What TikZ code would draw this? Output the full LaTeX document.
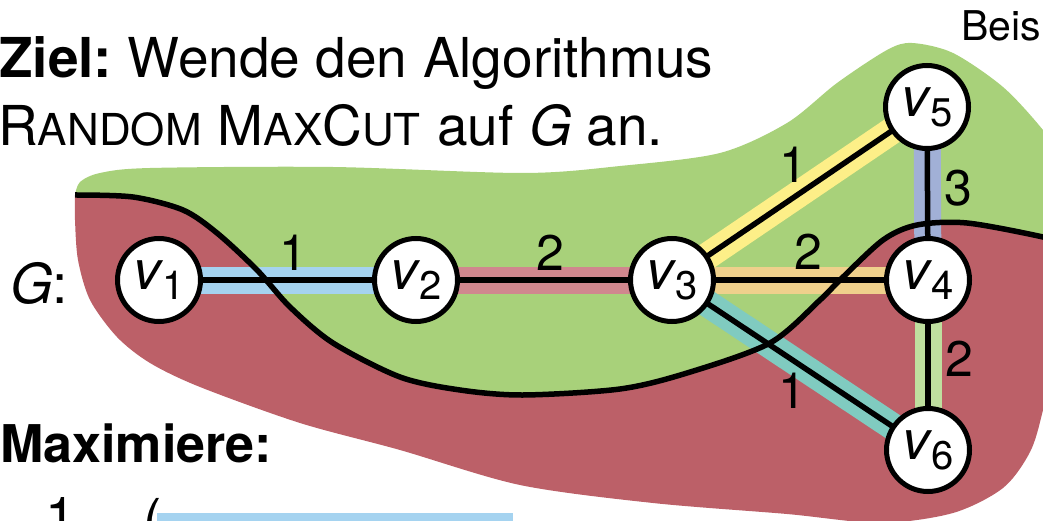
\documentclass[tikz,border=0pt]{standalone}
\usepackage{fontspec}
\setmainfont{TeX Gyre Heros}
\definecolor{cgreen}{HTML}{A8D17A}
\definecolor{cred}{HTML}{BC6068}
\definecolor{cblue}{HTML}{A5D3F0}
\definecolor{cpink}{HTML}{D0878E}
\definecolor{corange}{HTML}{EFD08C}
\definecolor{cyellow}{HTML}{FDEF88}
\definecolor{clav}{HTML}{A1B0D6}
\definecolor{cteal}{HTML}{80CBC0}
\definecolor{clgreen}{HTML}{BFDF9F}
\pgfdeclarelayer{back}
\pgfdeclarelayer{bands}
\pgfdeclarelayer{lines}
\pgfdeclarelayer{cut}
\pgfsetlayers{back,bands,lines,cut,main}
\newcommand{\vl}[1]{\textit{v}\kern-1pt\raisebox{-10pt}{\fontsize{40}{40}\selectfont #1}}
\newcommand{\smc}[1]{{\fontsize{44}{44}\selectfont #1}}
\begin{document}
\begin{tikzpicture}[x=1pt,y=-1pt,
  vert/.style={circle, draw=black, line width=5pt, fill=white, minimum size=83pt, inner sep=0pt, font=\fontsize{55}{55}\selectfont},
  band/.style={line width=27pt},
  eline/.style={line width=5.5pt, draw=black},
  cutline/.style={line width=5.5pt, draw=black},
  wlab/.style={font=\fontsize{50}{50}\selectfont, inner sep=0pt},
  txt/.style={anchor=base west, inner sep=0pt, font=\fontsize{55}{55}\selectfont}]
\useasboundingbox (0,0) rectangle (1043,521);
\clip (0,0) rectangle (1043,521);

% vertices
\node[vert] (v1) at (159,280) {\vl{1}};
\node[vert] (v2) at (416,280) {\vl{2}};
\node[vert] (v3) at (672,280) {\vl{3}};
\node[vert] (v4) at (928,280) {\vl{4}};
\node[vert] (v5) at (927,107) {\vl{5}};
\node[vert] (v6) at (928,450) {\vl{6}};

\begin{pgfonlayer}{back}
\fill[cgreen] plot[smooth] coordinates {(75,195) (80,182) (100,173) (150,168) (333,167) (523,173) (620,166) (720,153) (787,123) (837,83) (887,50) (912,43) (953,53) (1003,87) (1043,130) (1075,175)} -- (1110,200) -- (1110,252)
  -- plot[smooth] coordinates {(1080,248) (1043,237) (967,223) (917,225) (883,240) (840,280) (820,300) (770,343) (687,373) (620,389) (523,395) (460,390) (400,377) (333,343) (290,307) (257,270) (217,233) (183,210) (133,197) (75,195)} -- cycle;
\fill[cred] plot[smooth] coordinates {(75,195) (133,197) (183,210) (217,233) (257,270) (290,307) (333,343) (400,377) (460,390) (523,395) (620,389) (687,373) (770,343) (820,300) (840,280) (883,240) (917,225) (967,223) (1043,237) (1080,248)} -- (1110,252) -- (1110,330)
  -- plot[smooth] coordinates {(1060,330) (1043,410) (1030,452) (1003,488) (953,513) (880,523) (787,514) (653,503) (520,485) (400,450) (300,423) (200,387) (150,363) (117,337) (90,300) (78,260) (75,220) (75,195)} -- cycle;
\fill[cblue] (157,513) rectangle (513,525);
\end{pgfonlayer}

\begin{pgfonlayer}{bands}
\draw[band, cblue] (v1.center) -- (v2.center);
\draw[band, cpink] (v2.center) -- (v3.center);
\draw[band, corange] (v3.center) -- (v4.center);
\draw[band, cyellow] (v3.center) -- (v5.center);
\draw[band, clav] (v4.center) -- (v5.center);
\draw[band, cteal] (v3.center) -- (v6.center);
\draw[band, clgreen] (v4.center) -- (v6.center);
\end{pgfonlayer}

\begin{pgfonlayer}{lines}
\draw[eline] (v1.center) -- (v2.center);
\draw[eline] (v2.center) -- (v3.center);
\draw[eline] (v3.center) -- (v4.center);
\draw[eline] (v3.center) -- (v5.center);
\draw[eline] (v4.center) -- (v5.center);
\draw[eline] (v3.center) -- (v6.center);
\draw[eline] (v4.center) -- (v6.center);
\end{pgfonlayer}

\begin{pgfonlayer}{cut}
\draw[cutline] plot[smooth] coordinates {(75,195) (133,197) (183,210) (217,233) (257,270) (290,307) (333,343) (400,377) (460,390) (523,395) (620,389) (687,373) (770,343) (820,300) (840,280) (883,240) (917,225) (967,223) (1043,237) (1080,248)};
\end{pgfonlayer}

% weights
\node[wlab] (w12) at (293,253) {1};
\node[wlab] (w23) at (550,253) {2};
\node[wlab] (w34) at (808,252) {2};
\node[wlab] (w35) at (793,165) {1};
\node[wlab] (w45) at (958,188) {3};
\node[wlab] (w46) at (959,359) {2};
\node[wlab] (w36) at (792,391) {1};

% texts
\node[txt] (l1) at (-1,78) {\hbox to 714pt{\textbf{Ziel:}\hfill Wende\hfill den\hfill Algorithmus}};
\node[txt] (l2) at (-2,146) {\hbox to 665pt{R\smc{ANDOM}\hfill M\smc{AX}C\smc{UT}\hfill auf\hfill\textit{G}\hskip 14pt plus 1fil an.}};
\node[txt] (g) at (10,303) {\textit{G}:};
\node[txt, font=\fontsize{52}{52}\selectfont\bfseries] (max) at (0,462) {Maximiere:};
\node[txt, font=\fontsize{41}{41}\selectfont] (beis) at (961,41) {Beis};
\node[txt] (one) at (45,536) {1};
\node[txt] (par) at (143,538) {(};
\end{tikzpicture}
\end{document}
